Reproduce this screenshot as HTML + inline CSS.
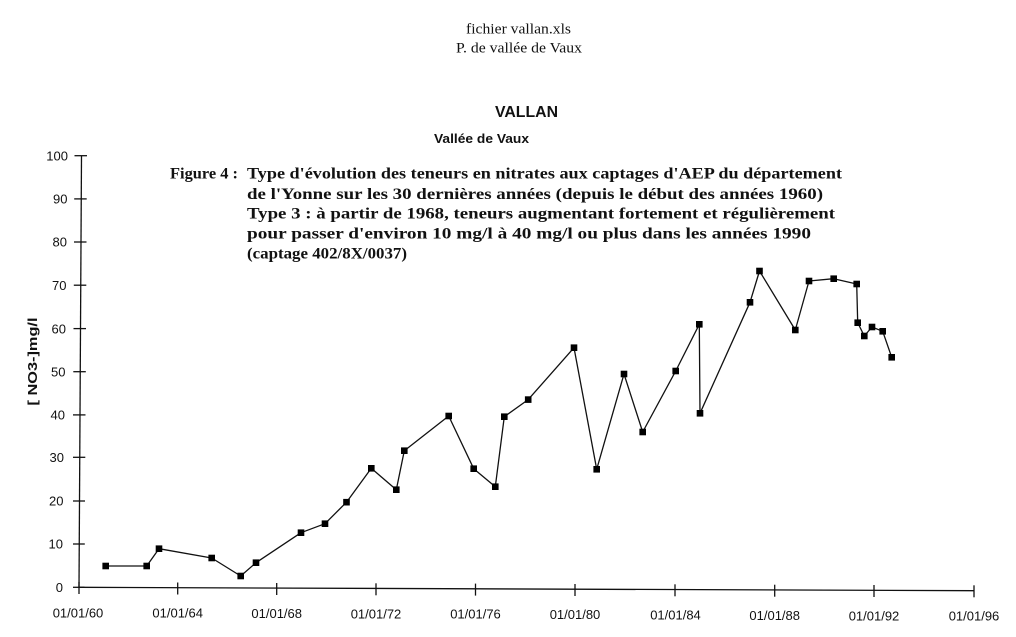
<!DOCTYPE html>
<html><head><meta charset="utf-8">
<style>
html,body{margin:0;padding:0;background:#fff;}
svg{display:block;}
</style></head>
<body>
<svg width="1016" height="637" viewBox="0 0 1016 637" xmlns="http://www.w3.org/2000/svg">
<rect width="1016" height="637" fill="#fff"/>
<!-- header -->
<g font-family="Liberation Serif, serif" font-size="14.5" fill="#111">
<text x="466" y="33.5" textLength="105" lengthAdjust="spacingAndGlyphs">fichier vallan.xls</text>
<text x="456" y="52.5" textLength="126" lengthAdjust="spacingAndGlyphs">P. de vallée de Vaux</text>
</g>
<g font-family="Liberation Sans, sans-serif" font-weight="bold" fill="#111">
<text x="495" y="117" font-size="16" textLength="63" lengthAdjust="spacingAndGlyphs">VALLAN</text>
<text x="434" y="143" font-size="13" textLength="95" lengthAdjust="spacingAndGlyphs">Vallée de Vaux</text>
</g>
<!-- figure caption -->
<g font-family="Liberation Serif, serif" font-weight="bold" font-size="15.5" fill="#111">
<text x="170" y="178.5" textLength="68" lengthAdjust="spacingAndGlyphs">Figure 4 :</text>
<text x="247" y="178.5" textLength="595" lengthAdjust="spacingAndGlyphs">Type d'évolution des teneurs en nitrates aux captages d'AEP du département</text>
<text x="247" y="199" textLength="576" lengthAdjust="spacingAndGlyphs">de l'Yonne sur les 30 dernières années (depuis le début des années 1960)</text>
<text x="247" y="218.5" textLength="588" lengthAdjust="spacingAndGlyphs">Type 3 : à partir de 1968, teneurs augmentant fortement et régulièrement</text>
<text x="247" y="238.5" textLength="564" lengthAdjust="spacingAndGlyphs">pour passer d'environ 10 mg/l à 40 mg/l ou plus dans les années 1990</text>
<text x="247" y="258.5" textLength="160" lengthAdjust="spacingAndGlyphs">(captage 402/8X/0037)</text>
</g>
<!-- y axis label -->
<text transform="translate(37,361.5) rotate(-90)" text-anchor="middle" font-family="Liberation Sans, sans-serif" font-weight="bold" font-size="12.5" fill="#111" textLength="88" lengthAdjust="spacingAndGlyphs">[ NO3-]mg/l</text>
<!-- axes -->
<g stroke="#111" stroke-width="1.3" fill="none">
<line x1="81.5" y1="155.7" x2="79" y2="588"/>
<line x1="79" y1="587.3" x2="974" y2="590.7"/>
<!-- y ticks -->
<line x1="74.5" y1="155.7" x2="87" y2="155.7"/>
<line x1="74.2" y1="198.9" x2="86.7" y2="198.9"/>
<line x1="74" y1="242" x2="86.5" y2="242"/>
<line x1="73.8" y1="285.2" x2="86.3" y2="285.2"/>
<line x1="73.5" y1="328.6" x2="86" y2="328.6"/>
<line x1="73.3" y1="371.7" x2="85.8" y2="371.7"/>
<line x1="73" y1="414.9" x2="85.5" y2="414.9"/>
<line x1="73" y1="457.3" x2="85.3" y2="457.3"/>
<line x1="73" y1="501" x2="85" y2="501"/>
<line x1="73" y1="544" x2="84.8" y2="544"/>
<line x1="73" y1="587.3" x2="84.5" y2="587.3"/>
<!-- x ticks -->
<line x1="79" y1="582" x2="79" y2="594"/>
<line x1="177.7" y1="582.5" x2="177.7" y2="594.5"/>
<line x1="276.7" y1="583" x2="276.7" y2="595"/>
<line x1="376" y1="583.3" x2="376" y2="595.3"/>
<line x1="475.5" y1="583.6" x2="475.5" y2="595.6"/>
<line x1="575" y1="584" x2="575" y2="596"/>
<line x1="675" y1="584.3" x2="675" y2="596.3"/>
<line x1="774.7" y1="584.7" x2="774.7" y2="596.7"/>
<line x1="874" y1="585" x2="874" y2="597"/>
<line x1="974" y1="585.3" x2="974" y2="597.3"/>
</g>
<!-- y labels -->
<g font-family="Liberation Sans, sans-serif" font-size="13" fill="#111" text-anchor="end">
<text x="68" y="160.5">100</text>
<text x="67.5" y="203.5">90</text>
<text x="67" y="246.7">80</text>
<text x="66.5" y="289.9">70</text>
<text x="66" y="333.3">60</text>
<text x="65.5" y="376.4">50</text>
<text x="65" y="419.6">40</text>
<text x="64" y="462">30</text>
<text x="63.5" y="505.7">20</text>
<text x="63" y="548.7">10</text>
<text x="63" y="592">0</text>
</g>
<!-- x labels -->
<g font-family="Liberation Sans, sans-serif" font-size="13" fill="#111" text-anchor="middle">
<text x="78" y="617.5">01/01/60</text>
<text x="177.7" y="617.5">01/01/64</text>
<text x="276.7" y="618">01/01/68</text>
<text x="376" y="618.3">01/01/72</text>
<text x="475.5" y="618.6">01/01/76</text>
<text x="575" y="619">01/01/80</text>
<text x="675.5" y="619.5">01/01/84</text>
<text x="774.7" y="620">01/01/88</text>
<text x="874" y="620.3">01/01/92</text>
<text x="974" y="620.5">01/01/96</text>
</g>
<!-- series -->
<polyline fill="none" stroke="#111" stroke-width="1.3" stroke-linejoin="round" points="105.7,566 146.7,566 159,548.7 211.7,558 240.7,576 256,562.7 301,532.7 325,523.7 346.5,502.2 371.3,468.3 396.3,489.7 404.3,450.7 448.7,416 473.7,468.7 495.3,486.7 504.3,416.7 528.2,399.6 574,347.7 596.7,469.3 624,374 642.7,432 675.7,371 699.3,324.3 700,413.3 750,302.3 759.5,271 795.3,330 809,281 833.7,278.7 856.7,284 857.7,322.7 864.3,336 872,327 882.7,331.3 891.7,357.3"/>
<g fill="#000">
<rect x="102.4" y="562.7" width="6.6" height="6.6"/>
<rect x="143.4" y="562.7" width="6.6" height="6.6"/>
<rect x="155.7" y="545.4" width="6.6" height="6.6"/>
<rect x="208.4" y="554.7" width="6.6" height="6.6"/>
<rect x="237.4" y="572.7" width="6.6" height="6.6"/>
<rect x="252.7" y="559.4" width="6.6" height="6.6"/>
<rect x="297.7" y="529.4" width="6.6" height="6.6"/>
<rect x="321.7" y="520.4" width="6.6" height="6.6"/>
<rect x="343.2" y="498.9" width="6.6" height="6.6"/>
<rect x="368" y="465" width="6.6" height="6.6"/>
<rect x="393" y="486.4" width="6.6" height="6.6"/>
<rect x="401" y="447.4" width="6.6" height="6.6"/>
<rect x="445.4" y="412.7" width="6.6" height="6.6"/>
<rect x="470.4" y="465.4" width="6.6" height="6.6"/>
<rect x="492" y="483.4" width="6.6" height="6.6"/>
<rect x="501" y="413.4" width="6.6" height="6.6"/>
<rect x="524.9" y="396.3" width="6.6" height="6.6"/>
<rect x="570.7" y="344.4" width="6.6" height="6.6"/>
<rect x="593.4" y="466" width="6.6" height="6.6"/>
<rect x="620.7" y="370.7" width="6.6" height="6.6"/>
<rect x="639.4" y="428.7" width="6.6" height="6.6"/>
<rect x="672.4" y="367.7" width="6.6" height="6.6"/>
<rect x="696" y="321" width="6.6" height="6.6"/>
<rect x="696.7" y="410" width="6.6" height="6.6"/>
<rect x="746.7" y="299" width="6.6" height="6.6"/>
<rect x="756.2" y="267.7" width="6.6" height="6.6"/>
<rect x="792" y="326.7" width="6.6" height="6.6"/>
<rect x="805.7" y="277.7" width="6.6" height="6.6"/>
<rect x="830.4" y="275.4" width="6.6" height="6.6"/>
<rect x="853.4" y="280.7" width="6.6" height="6.6"/>
<rect x="854.4" y="319.4" width="6.6" height="6.6"/>
<rect x="861" y="332.7" width="6.6" height="6.6"/>
<rect x="868.7" y="323.7" width="6.6" height="6.6"/>
<rect x="879.4" y="328" width="6.6" height="6.6"/>
<rect x="888.4" y="354" width="6.6" height="6.6"/>
</g>
</svg>
</body></html>
